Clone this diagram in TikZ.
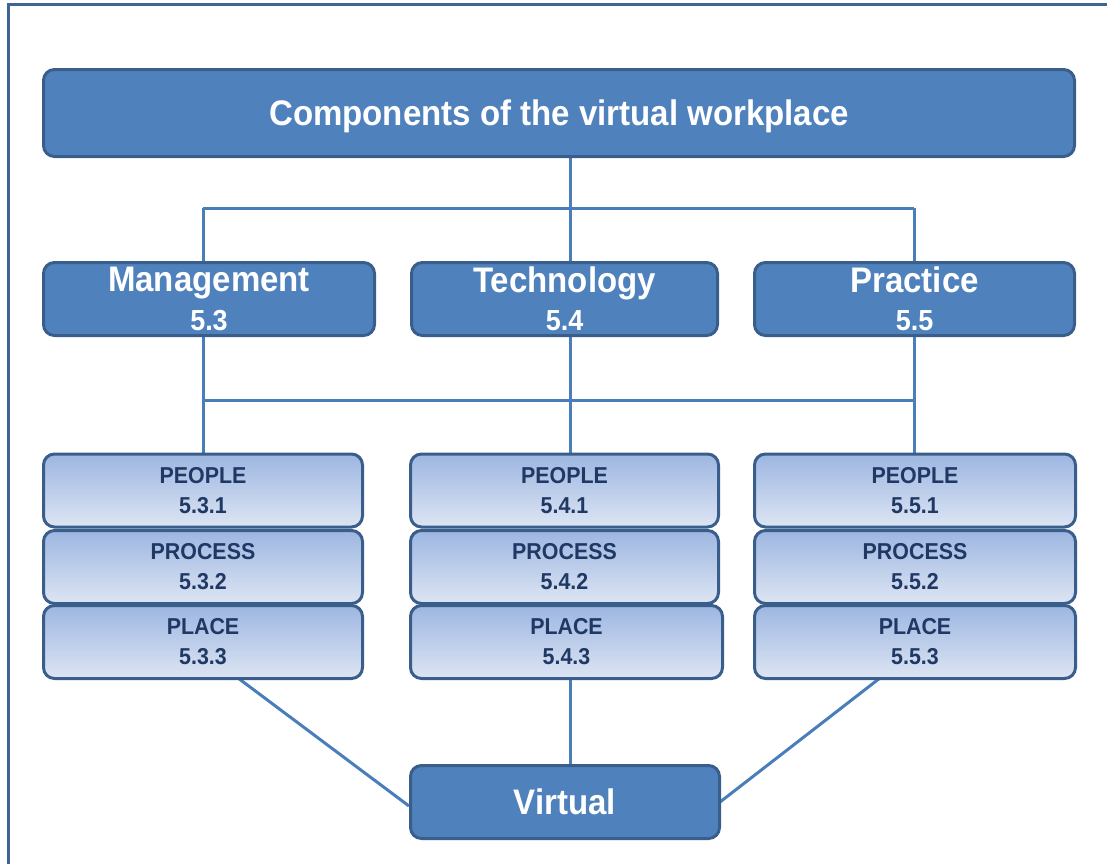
\documentclass[tikz,border=0pt]{standalone}
\usepackage{fontspec}
\setmainfont{Liberation Sans}
\newfontfamily\hd[FakeStretch=0.93]{Liberation Sans}
\usetikzlibrary{backgrounds}
\definecolor{boxfill}{HTML}{4F81BD}
\definecolor{boxline}{HTML}{3A5E8C}
\definecolor{connc}{HTML}{4A7EBB}
\definecolor{gtop}{HTML}{9DB6E1}
\definecolor{gbot}{HTML}{DDE5F3}
\definecolor{navy}{HTML}{1F3864}
\definecolor{framec}{HTML}{3F6592}
\tikzset{
  mainbox/.style={draw=boxline, fill=boxfill, line width=3pt, rounded corners=11pt,
    text=white, align=center, inner sep=0pt},
  midbox/.style={mainbox, minimum height=73pt, font=\hd\bfseries\fontsize{35.5}{38.5}\selectfont},
  subbox/.style={draw=boxline, top color=gtop, bottom color=gbot, line width=3pt,
    rounded corners=11pt, text=navy, align=center, inner sep=0pt,
    minimum height=73pt, font=\hd\bfseries\fontsize{23}{30}\selectfont},
  conn/.style={draw=connc, line width=3pt},
}
\newcommand{\secno}[1]{{\fontsize{29}{38.5}\selectfont #1}}
\begin{document}
\begin{tikzpicture}[x=1pt,y=-1pt]
\useasboundingbox (0,0) rectangle (1107,863);
\clip (0,0) rectangle (1107,863);
% frame
\draw[framec, line width=3pt] (1120,4.7) -- (8,4.7) -- (8,880);
% main boxes
\node[mainbox, minimum width=1031pt, minimum height=87pt, text depth=0pt, font=\hd\bfseries\fontsize{35.5}{40}\selectfont] (top) at (559,113) {Components of the virtual workplace};
\node[midbox, minimum width=331pt] (man) at (209,299) {Management\\\secno{5.3}};
\node[midbox, minimum width=306pt] (tech) at (564.5,299) {Technology\\\secno{5.4}};
\node[midbox, minimum width=320pt] (prac) at (914.5,299) {Practice\\\secno{5.5}};
% sub boxes left
\node[subbox, minimum width=319pt] (peo1) at (203,490.5) {PEOPLE\\5.3.1};
\node[subbox, minimum width=319pt] (pro1) at (203,567) {PROCESS\\5.3.2};
\node[subbox, minimum width=319pt] (pla1) at (203,642) {PLACE\\5.3.3};
% middle
\node[subbox, minimum width=308pt] (peo2) at (564.5,490.5) {PEOPLE\\5.4.1};
\node[subbox, minimum width=308pt] (pro2) at (564.5,567) {PROCESS\\5.4.2};
\node[subbox, minimum width=312pt] (pla2) at (566.5,642) {PLACE\\5.4.3};
% right
\node[subbox, minimum width=321pt] (peo3) at (915,490.5) {PEOPLE\\5.5.1};
\node[subbox, minimum width=321pt] (pro3) at (915,567) {PROCESS\\5.5.2};
\node[subbox, minimum width=321pt] (pla3) at (915,642) {PLACE\\5.5.3};
% virtual
\node[mainbox, minimum width=309pt, minimum height=73pt, text depth=0pt, font=\hd\bfseries\fontsize{35.5}{40}\selectfont] (virt) at (565,802) {Virtual};
% connectors
\coordinate (jL) at (203,208);
\coordinate (jM) at (570,208);
\coordinate (jR) at (914,208);
\coordinate (kL) at (203,400);
\coordinate (kR) at (914,400);
\coordinate (pL) at (238,678);
\coordinate (vL) at (409,806);
\coordinate (pR) at (880,678);
\coordinate (vR) at (720,802);
\begin{scope}[on background layer]
\draw[conn] (jM |- top.south) -- (jM);
\draw[conn] (jL) -- (jR);
\draw[conn] (jL) -- (jL |- man.north);
\draw[conn] (jM) -- (jM |- tech.north);
\draw[conn] (jR) -- (jR |- prac.north);
\draw[conn] (kL |- man.south) -- (kL |- peo1.north);
\draw[conn] (kL) -- (kR);
\draw[conn] (jM |- tech.south) -- (jM |- peo2.north);
\draw[conn] (kR |- prac.south) -- (kR |- peo3.north);
\draw[conn] (pL) -- (vL);
\draw[conn] (jM |- pla2.south) -- (jM |- virt.north);
\draw[conn] (pR) -- (vR);
\end{scope}
\end{tikzpicture}
\end{document}
